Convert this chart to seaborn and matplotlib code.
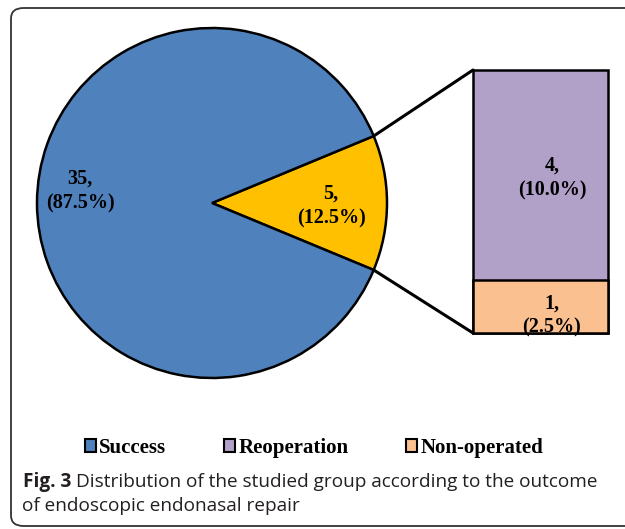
import numpy as np
import matplotlib
matplotlib.use("Agg")
import matplotlib.pyplot as plt
import seaborn as sns
from matplotlib.patches import ConnectionPatch, FancyBboxPatch, Patch

# data
categories = ["Success", "Reoperation", "Non-operated"]
counts = [35, 4, 1]
colors = ["#4F81BD", "#B1A0C7", "#FAC090"]
other_color = "#FFC000"
total = sum(counts)
other = counts[1] + counts[2]

sns.set_style("white")
plt.rcParams["font.family"] = ["Liberation Serif", "DejaVu Serif"]
plt.rcParams["text.color"] = "black"

W, H = 625, 529
fig = plt.figure(figsize=(W / 100, H / 100), dpi=100)


def px_axes(x0, y0, x1, y1):
    # pixel box (top-left origin) -> figure axes
    return fig.add_axes([x0 / W, 1 - y1 / H, (x1 - x0) / W, (y1 - y0) / H])


# rounded frame around figure
frame = FancyBboxPatch((11 / W, 1 - 526 / H), 700 / W, 518 / H,
                       boxstyle="round,pad=0,rounding_size=0.02",
                       transform=fig.transFigure, fill=False,
                       edgecolor="#333333", linewidth=1.3, clip_on=False)
fig.patches.append(frame)

# pie
cx, cy, r = 212, 203, 175
ax1 = px_axes(cx - r, cy - r, cx + r, cy + r)
half = 180 * other / total
wedges, _ = ax1.pie([other, counts[0]], colors=[other_color, colors[0]],
                    startangle=-half, radius=1,
                    wedgeprops=dict(edgecolor="black", linewidth=1.8))
ax1.set_xlim(-1, 1)
ax1.set_ylim(-1, 1)
ax1.set_aspect("equal")
ax1.axis("off")

lab = dict(ha="center", va="center", fontsize=14.5, fontweight="bold",
           linespacing=1.3, color="black")
ax1.text(-0.754, 0.069, f"{counts[0]},\n({counts[0] / total * 100:.1f}%)", **lab)
ax1.text(0.68, -0.017, f"{other},\n({other / total * 100:.1f}%)", **lab)

# stacked bar
ax2 = px_axes(473, 70, 608, 333)
sns.barplot(x=["x"], y=[other], color=colors[1], width=1, saturation=1,
            edgecolor="black", linewidth=1.8, ax=ax2)
sns.barplot(x=["x"], y=[counts[2]], color=colors[2], width=1, saturation=1,
            edgecolor="black", linewidth=1.8, ax=ax2)
for p in ax2.patches:
    p.set_clip_on(False)
ax2.set_xlim(-0.5, 0.5)
ax2.set_ylim(0, other)
ax2.axis("off")
ax2.text(0.085, 2.95, f"{counts[1]},\n({counts[1] / total * 100:.1f}%)", **lab)
ax2.text(0.085, 0.33, f"{counts[2]},\n({counts[2] / total * 100:.1f}%)", **lab)

# connector lines
ang = np.deg2rad(half)
for sgn, yb in [(1, other), (-1, 0)]:
    con = ConnectionPatch(xyA=(np.cos(ang), sgn * np.sin(ang)), coordsA=ax1.transData,
                          xyB=(-0.5, yb), coordsB=ax2.transData,
                          color="black", linewidth=2.2)
    fig.add_artist(con)

# legend
handles = [Patch(facecolor=c, edgecolor="black", linewidth=1.5) for c in colors]
fig.legend(handles, categories, loc="center", bbox_to_anchor=(314 / W, 1 - 448 / H),
           ncol=3, frameon=False, handlelength=0.55, handleheight=0.55,
           handletextpad=0.15, columnspacing=2.75, labelcolor="black",
           prop=dict(family="Liberation Serif", weight="bold", size=15))

# caption
cap = dict(fontsize=13.7, family="Open Sans", color="#231f20", va="baseline")
t1 = fig.text(23 / W, 1 - 487 / H, "Fig. 3", fontweight="bold", **cap)
fig.canvas.draw()
bb = t1.get_window_extent()
fig.text(bb.x1 / W + 5 / W, 1 - 487 / H,
         "Distribution of the studied group according to the outcome", **cap)
fig.text(22 / W, 1 - 511 / H, "of endoscopic endonasal repair", **cap)

fig.savefig("out.png", dpi=100)
